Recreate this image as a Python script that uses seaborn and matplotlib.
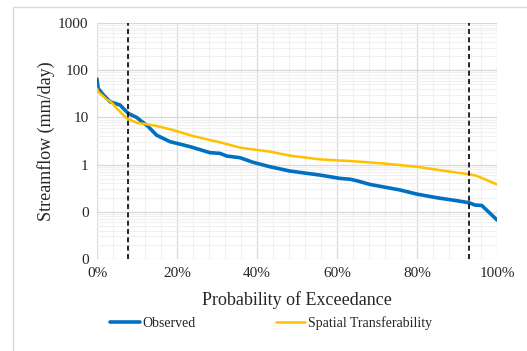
import matplotlib
matplotlib.use("Agg")
import matplotlib.pyplot as plt
import matplotlib.ticker as mticker
from matplotlib.patches import Rectangle
import seaborn as sns
import pandas as pd

# exceedance probability (%) and streamflow (mm/day)
obs_pct = [0, 0.3, 1.6, 3.25, 5.75, 7.8, 9.9, 12.8, 14.9, 18.25, 23.25, 28.25, 30.75,
           32.4, 35.75, 39, 43.25, 48.25, 55.75, 60.75, 63.25, 64.9, 68.25, 75.75,
           79.9, 84.9, 89.9, 93, 94.5, 96.2, 97.4, 100]
obs_flow = [65, 41, 30, 21.5, 18.3, 12.2, 10, 6.4, 4.2, 3.06, 2.4, 1.79, 1.73,
            1.52, 1.40, 1.12, 0.90, 0.73, 0.60, 0.51, 0.49, 0.456, 0.38, 0.29,
            0.238, 0.199, 0.172, 0.156, 0.139, 0.136, 0.109, 0.067]

st_pct = [0, 0.3, 2.4, 3.7, 5.3, 7.4, 9.9, 14.9, 19, 23.25, 28.25, 30.75, 35.75,
          43.25, 48.25, 55.75, 63.25, 71.6, 79.9, 88.25, 93.25, 94.9, 97.4, 100]
st_flow = [41, 35, 24, 20.5, 14.4, 9.6, 7.7, 6.6, 5.4, 4.2, 3.3, 2.97, 2.29,
           1.88, 1.55, 1.29, 1.19, 1.06, 0.90, 0.71, 0.62, 0.58, 0.47, 0.38]

cutoffs = [7.75, 93]
y_ticks = [0.01, 0.1, 1, 10, 100, 1000]
x_ticks = [0, 20, 40, 60, 80, 100]

sns.set_style("white")
plt.rcParams['font.family'] = ['Liberation Serif', 'DejaVu Serif']

obs = pd.DataFrame({'pct': obs_pct, 'flow': obs_flow})
st = pd.DataFrame({'pct': st_pct, 'flow': st_flow})

fig = plt.figure(figsize=(5.27, 3.51), dpi=100)
ax = fig.add_axes([97/527, 1 - 259/351, 400/527, 236/351])

sns.lineplot(data=obs, x='pct', y='flow', color='#0070C0', linewidth=2.6, label='Observed', ax=ax, zorder=3)
sns.lineplot(data=st, x='pct', y='flow', color='#FFC000', linewidth=1.8, label='Spatial Transferability', ax=ax, zorder=3)

for c in cutoffs:
    ax.axvline(c, color='black', linestyle=(0, (3, 2)), linewidth=1.2, zorder=4)

ax.set_yscale('log')
ax.set_ylim(0.01, 1000)
ax.set_xlim(0, 100)
ax.set_yticks(y_ticks)
ax.yaxis.set_major_formatter(mticker.FuncFormatter(lambda v, p: f"{v:.0f}"))
ax.yaxis.set_minor_locator(mticker.LogLocator(base=10, subs=range(2, 10)))
ax.yaxis.set_minor_formatter(mticker.NullFormatter())
ax.set_xticks(x_ticks)
ax.xaxis.set_major_formatter(mticker.FuncFormatter(lambda v, p: f"{v:.0f}%"))
ax.xaxis.set_minor_locator(mticker.MultipleLocator(4))

ax.grid(which='major', color='#D9D9D9', linewidth=0.9)
ax.grid(which='minor', color='#F0F0F0', linewidth=0.8)
ax.set_axisbelow(True)
for s in ax.spines.values():
    s.set_visible(False)
ax.tick_params(which='both', length=0, labelsize=11, pad=6)

ax.set_xlabel('Probability of Exceedance', fontsize=13, labelpad=8)
ax.set_ylabel('Streamflow (mm/day)', fontsize=13, labelpad=2)

ax.get_legend().remove()
handles, labels = ax.get_legend_handles_labels()
fig.legend(handles, labels, loc='center', bbox_to_anchor=(0.515, 1 - 323/351), ncol=2,
           frameon=False, fontsize=10, handlelength=2.1, handletextpad=0.2, columnspacing=5.8)

# outer chart frame
fig.patches.append(Rectangle((13/527, -0.1), 1.0, (351 - 7)/351 + 0.1, transform=fig.transFigure,
                             fill=False, edgecolor='#D9D9D9', linewidth=1.0))

fig.savefig('out.png', dpi=100)
